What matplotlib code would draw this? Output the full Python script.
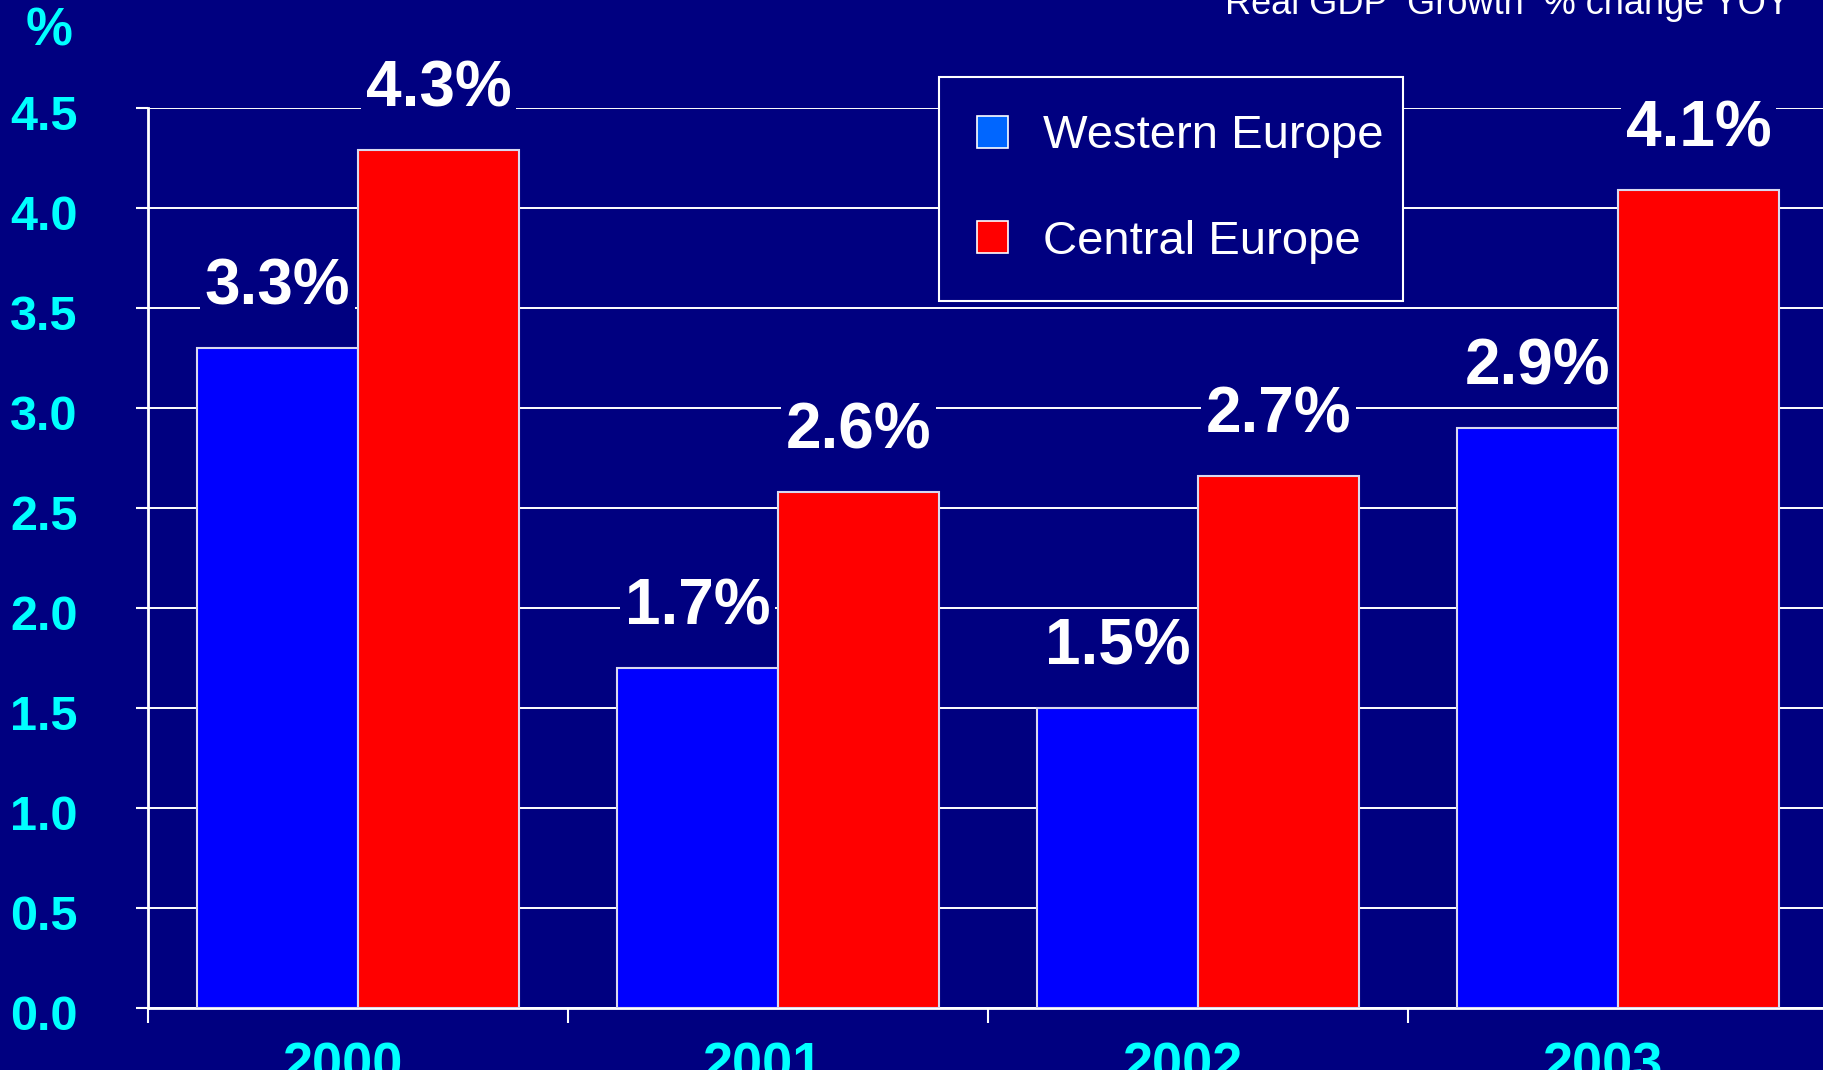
import matplotlib
matplotlib.use("Agg")
import matplotlib.pyplot as plt
import matplotlib.transforms as mtransforms
import numpy as np
from matplotlib.patches import Patch

plt.rcParams["font.family"] = ["Liberation Sans", "DejaVu Sans"]

# data
years = ["2000", "2001", "2002", "2003"]
western = [3.3, 1.7, 1.5, 2.9]
central = [4.29, 2.58, 2.66, 4.09]
series_names = ["Western Europe", "Central Europe"]
yticks = [0.0, 0.5, 1.0, 1.5, 2.0, 2.5, 3.0, 3.5, 4.0, 4.5]

navy = "#000080"
cyan = "#00FFFF"
edge = "#D8D8F0"

fig = plt.figure(figsize=(18.24, 10.70), dpi=100, facecolor=navy)
ax = fig.add_axes([148 / 1824, 1 - 1008 / 1070, 1680 / 1824, 900 / 1070])
ax.set_facecolor(navy)

x = np.arange(len(years))
w = 0.383
b1 = ax.bar(x - w / 2, western, w, color="#0000FF", edgecolor=edge, linewidth=1.5, zorder=3)
b2 = ax.bar(x + w / 2, central, w, color="#FF0000", edgecolor=edge, linewidth=1.5, zorder=3)

# value labels above bars, navy box hides the grid behind them
for bars, vals in [(b1, western), (b2, central)]:
    for r, v in zip(bars, vals):
        ax.annotate(f"{v:.1f}%", (r.get_x() + r.get_width() / 2, v),
                    xytext=(0, 31.5), textcoords="offset points",
                    ha="center", va="baseline", fontsize=46, fontweight="bold",
                    color="white", zorder=5,
                    bbox=dict(boxstyle="square,pad=0.08", fc=navy, ec="none"))

ax.set_xlim(-0.5, 3.5)
ax.set_ylim(0, 4.5)
ax.set_yticks(yticks)
ax.set_yticklabels([f"{t:.1f}" for t in yticks])
ax.grid(axis="y", color="white", linewidth=1.4, zorder=0)
ax.set_axisbelow(True)

ax.set_xticks(x)
ax.set_xticklabels(years)
ax.set_xticks(np.arange(len(years) + 1) - 0.5, minor=True)
ax.tick_params(axis="x", which="major", length=0, pad=24, labelsize=39,
               labelcolor=cyan)
ax.tick_params(axis="x", which="minor", length=11, width=1.5, color="white",
               direction="out")
ax.tick_params(axis="y", length=8.6, width=1.5, color="white", direction="out",
               pad=42, labelsize=35, labelcolor=cyan)

# small nudges so the labels sit like the original
xshift = mtransforms.ScaledTranslation(-16 / 100, 0, fig.dpi_scale_trans)
yshift = mtransforms.ScaledTranslation(0, -5 / 100, fig.dpi_scale_trans)
for lab in ax.get_xticklabels():
    lab.set_fontweight("bold")
    lab.set_transform(lab.get_transform() + xshift)
for lab in ax.get_yticklabels():
    lab.set_fontweight("bold")
    lab.set_transform(lab.get_transform() + yshift)

for s in ["top", "right"]:
    ax.spines[s].set_visible(False)
ax.spines["left"].set_color("white")
ax.spines["left"].set_linewidth(2)
ax.spines["bottom"].set_color("white")
ax.spines["bottom"].set_linewidth(2)

handles = [Patch(facecolor="#0066FF", edgecolor="white", linewidth=1.2),
           Patch(facecolor="#FF0000", edgecolor="white", linewidth=1.2)]
leg = fig.legend(handles, series_names, loc="upper left",
                 bbox_to_anchor=(939 / 1824, 1 - 308 / 1070, 464 / 1824, 231.5 / 1070),
                 mode="expand", fontsize=34, labelcolor="white",
                 facecolor=navy, edgecolor="white", fancybox=False,
                 framealpha=1, handlelength=0.66, handleheight=0.66,
                 handletextpad=0.75, labelspacing=1.3, borderpad=0.8,
                 borderaxespad=0)
leg.get_frame().set_linewidth(1.5)

fig.text(1790 / 1824, 1 - 14 / 1070, "Real GDP  Growth  % change YOY",
         ha="right", va="baseline", fontsize=26, color="white")
fig.text(49 / 1824, 1 - 45 / 1070, "%", ha="center", va="baseline",
         fontsize=38, fontweight="bold", color=cyan)

fig.savefig("out.png", dpi=100, facecolor=navy)
